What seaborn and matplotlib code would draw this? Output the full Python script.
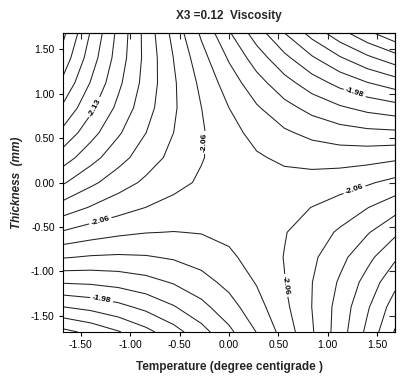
import numpy as np
import matplotlib
matplotlib.use("Agg")
import matplotlib.pyplot as plt
import seaborn as sns

# ---- data (response surface model, coded units) ----
title_text = "X3 =0.12  Viscosity"
x_label = "Temperature (degree centigrade )"
y_label = "Thickness  (mm)"

# quadratic response-surface coefficients (coded factors)
b0 = -2.0531
b_temp = 0.0126
b_thick = -0.0015
b_temp_thick = 0.0457
b_temp2 = -0.0113
b_thick2 = 0.0140

axis_min, axis_max = -1.68, 1.68
grid_points = 13

tick_values = [-1.50, -1.00, -0.50, 0.00, 0.50, 1.00, 1.50]
tick_labels = ["-1.50", "-1.00", "-0.50", "0.00", "0.50", "1.00", "1.50"]

contour_levels = [-2.1945, -2.1795, -2.1645, -2.1495, -2.1345, -2.1195,
                  -2.1045, -2.0895, -2.0745, -2.0595, -2.0445, -2.0295,
                  -2.0145, -1.9995, -1.9845, -1.9695, -1.9545, -1.9395,
                  -1.9245, -1.9095]

label_positions = [(-1.35, 0.84), (-0.25, 0.45), (1.27, 1.00),
                   (-1.29, -0.48), (1.27, -0.08), (0.61, -1.15),
                   (-1.29, -1.32)]

# ---- figure ----
sns.set_style("ticks")
plt.rcParams["font.family"] = ["Liberation Sans", "DejaVu Sans"]
plt.rcParams["axes.unicode_minus"] = False
plt.rcParams["contour.negative_linestyle"] = "solid"

fig = plt.figure(figsize=(4.11, 3.80), dpi=100)
ax = fig.add_axes([63 / 411, 1 - 332 / 380, (395 - 63) / 411, (332 - 33) / 380])

temp = np.linspace(axis_min, axis_max, grid_points)
thick = np.linspace(axis_min, axis_max, grid_points)
T, H = np.meshgrid(temp, thick)
Z = (b0 + b_temp * T + b_thick * H + b_temp_thick * T * H
     + b_temp2 * T ** 2 + b_thick2 * H ** 2)

cs = ax.contour(T, H, Z, levels=contour_levels, colors="#222222",
                linewidths=0.75, linestyles="solid")
texts = ax.clabel(cs, manual=label_positions, inline=True, fmt="%.2f",
                  fontsize=6, colors="black", inline_spacing=2)
for t in texts:
    t.set_fontweight("bold")

ax.set_xlim(axis_min, axis_max)
ax.set_ylim(axis_min, axis_max)
ax.set_xticks(tick_values)
ax.set_xticklabels(tick_labels)
ax.set_yticks(tick_values)
ax.set_yticklabels(tick_labels)
ax.tick_params(axis="both", which="both", labelsize=7.5, length=3,
               width=0.8, color="black", labelcolor="black", pad=3,
               direction="out")
# inward ticks on the top and right frame, as in the reference
ax_top = ax.secondary_xaxis("top")
ax_top.set_xticks(tick_values)
ax_top.tick_params(direction="in", length=4, width=0.8, labeltop=False)
ax_right = ax.secondary_yaxis("right")
ax_right.set_yticks(tick_values)
ax_right.tick_params(direction="in", length=4, width=0.8, labelright=False)
for s in ax.spines.values():
    s.set_color("black")
    s.set_linewidth(0.8)

ax.set_title(title_text, fontsize=8.5, fontweight="bold", pad=10)
ax.set_xlabel(x_label, fontsize=8.5, fontweight="bold", labelpad=8)
ax.set_ylabel(y_label, fontsize=8.5, fontweight="bold", style="italic",
              labelpad=6)

fig.savefig("out.png", dpi=100)
